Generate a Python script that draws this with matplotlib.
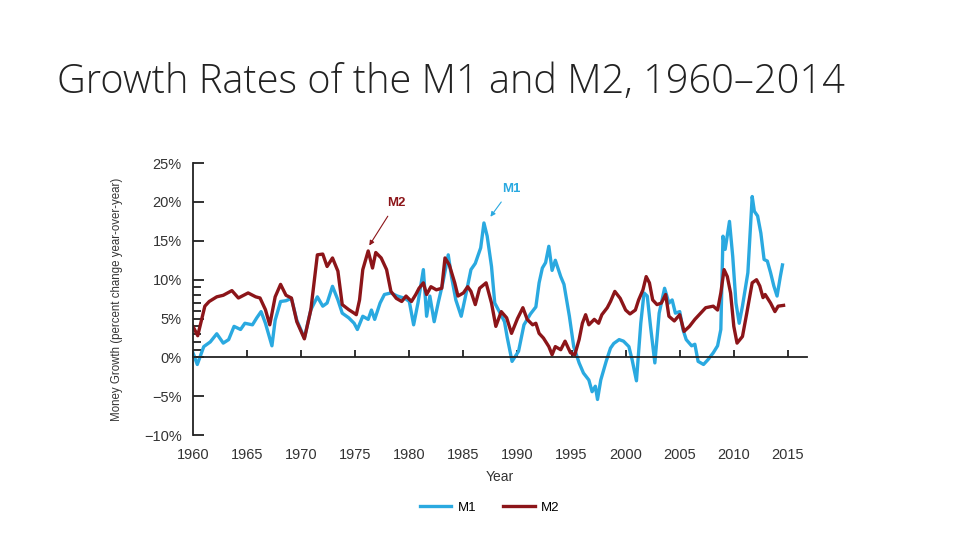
import matplotlib.pyplot as plt
import matplotlib.font_manager as fm

# M1 money growth, % change year-over-year
m1_years = [1960.0, 1960.4, 1961.0, 1961.6, 1962.2, 1962.8, 1963.3, 1963.8, 1964.4, 1964.8,
            1965.5, 1965.9, 1966.3, 1966.7, 1967.3, 1967.6, 1968.1, 1968.6, 1969.1, 1969.6,
            1970.3, 1970.9, 1971.5, 1972.0, 1972.4, 1972.9, 1973.4, 1973.8, 1974.4, 1974.9,
            1975.2, 1975.7, 1976.2, 1976.5, 1976.8, 1977.3, 1977.7, 1978.3, 1978.9, 1979.6,
            1980.0, 1980.4, 1980.8, 1981.3, 1981.6, 1981.9, 1982.3, 1982.7, 1983.1, 1983.6,
            1983.9, 1984.3, 1984.8, 1985.2, 1985.7, 1986.1, 1986.6, 1986.9, 1987.2, 1987.6,
            1987.9, 1988.4, 1988.8, 1989.05, 1989.5, 1990.1, 1990.6, 1991.2, 1991.7, 1992.0,
            1992.3, 1992.6, 1992.9, 1993.2, 1993.5, 1994.0, 1994.3, 1994.8, 1995.2, 1995.7,
            1996.1, 1996.6, 1996.9, 1997.2, 1997.4, 1997.7, 1998.2, 1998.6, 1998.9, 1999.4,
            1999.8, 2000.3, 2000.6, 2001.0, 2001.4, 2001.7, 2002.0, 2002.3, 2002.7, 2003.1,
            2003.6, 2004.0, 2004.3, 2004.6, 2005.0, 2005.3, 2005.6, 2006.1, 2006.4, 2006.7,
            2007.2, 2007.6, 2008.1, 2008.5, 2008.8, 2009.0, 2009.2, 2009.6, 2009.9, 2010.2,
            2010.5, 2010.8, 2011.3, 2011.7, 2011.9, 2012.2, 2012.5, 2012.8, 2013.1, 2013.4,
            2013.7, 2014.0, 2014.3, 2014.5]
m1_growth = [0.6, -0.9, 1.4, 2.0, 3.05, 1.85, 2.3, 4.0, 3.6, 4.4,
             4.2, 5.1, 5.9, 4.4, 1.5, 4.8, 7.2, 7.3, 7.6, 4.8,
             2.5, 6.15, 7.8, 6.6, 7.0, 9.15, 7.4, 5.7, 5.1, 4.4,
             3.6, 5.3, 4.9, 6.1, 4.9, 7.0, 8.1, 8.3, 7.9, 7.6,
             7.2, 4.2, 7.0, 11.3, 5.3, 7.9, 4.6, 7.2, 9.6, 13.2,
             10.4, 7.4, 5.3, 7.9, 11.3, 12.1, 14.1, 17.3, 15.6, 11.7,
             7.0, 5.7, 4.6, 2.6, -0.5, 0.8, 4.2, 5.6, 6.5, 9.6,
             11.5, 12.2, 14.3, 11.2, 12.5, 10.4, 9.4, 5.3, 1.4, -0.7,
             -2.0, -2.9, -4.4, -3.7, -5.4, -2.9, -0.5, 1.2, 1.8, 2.3,
             2.1, 1.4, -0.3, -3.0, 4.4, 8.3, 7.9, 4.0, -0.7, 5.7,
             8.9, 7.0, 7.4, 5.7, 5.9, 3.6, 2.3, 1.5, 1.7, -0.5,
             -0.9, -0.3, 0.6, 1.5, 3.6, 15.6, 13.9, 17.5, 13.0, 7.0,
             4.4, 6.6, 10.9, 20.7, 18.8, 18.2, 16.0, 12.6, 12.4, 10.9,
             9.2, 7.9, 10.4, 11.9]

# M2 money growth, % change year-over-year
m2_years = [1960.0, 1960.44, 1961.1, 1961.5, 1962.2, 1962.8, 1963.6, 1964.2, 1965.1, 1965.8,
            1966.2, 1966.7, 1967.1, 1967.6, 1968.1, 1968.6, 1969.1, 1969.6, 1970.3, 1970.9,
            1971.5, 1972.0, 1972.4, 1972.9, 1973.4, 1973.8, 1974.4, 1974.9, 1975.1, 1975.4,
            1975.7, 1976.2, 1976.6, 1976.9, 1977.4, 1977.9, 1978.3, 1978.8, 1979.3, 1979.7,
            1980.2, 1980.6, 1980.9, 1981.3, 1981.6, 1982.0, 1982.5, 1983.0, 1983.3, 1983.7,
            1984.2, 1984.5, 1985.0, 1985.4, 1985.7, 1986.1, 1986.5, 1987.1, 1987.6, 1988.0,
            1988.5, 1989.0, 1989.45, 1990.0, 1990.5, 1990.9, 1991.4, 1991.7, 1992.0, 1992.4,
            1992.9, 1993.2, 1993.5, 1994.0, 1994.4, 1994.9, 1995.3, 1995.7, 1996.0, 1996.3,
            1996.6, 1997.1, 1997.5, 1997.8, 1998.3, 1998.6, 1999.0, 1999.5, 2000.0, 2000.4,
            2000.9, 2001.2, 2001.6, 2001.9, 2002.2, 2002.5, 2002.9, 2003.3, 2003.7, 2004.0,
            2004.5, 2005.0, 2005.4, 2005.9, 2006.4, 2006.8, 2007.4, 2008.1, 2008.5, 2008.8,
            2009.1, 2009.4, 2009.7, 2010.0, 2010.3, 2010.8, 2011.2, 2011.7, 2012.1, 2012.4,
            2012.7, 2012.9, 2013.4, 2013.8, 2014.1, 2014.6]
m2_growth = [4.0, 2.8, 6.6, 7.2, 7.8, 8.0, 8.6, 7.65, 8.3, 7.8,
             7.65, 6.15, 4.2, 7.8, 9.4, 8.0, 7.65, 4.6, 2.4, 6.15,
             13.2, 13.3, 11.7, 12.8, 11.1, 6.8, 6.15, 5.7, 5.5, 7.4,
             11.3, 13.7, 11.5, 13.5, 12.8, 11.3, 8.5, 7.6, 7.2, 7.9,
             7.2, 8.1, 8.9, 9.6, 8.1, 9.1, 8.7, 8.9, 12.8, 11.9,
             9.6, 7.9, 8.3, 9.1, 8.5, 6.8, 8.9, 9.6, 7.0, 4.0,
             5.9, 5.1, 3.1, 5.0, 6.4, 4.9, 4.2, 4.4, 3.1, 2.5,
             1.4, 0.35, 1.4, 1.0, 2.1, 0.6, 0.35, 2.3, 4.4, 5.5,
             4.2, 4.9, 4.4, 5.5, 6.4, 7.2, 8.5, 7.6, 6.1, 5.6,
             6.1, 7.4, 8.7, 10.4, 9.6, 7.4, 6.8, 7.0, 8.1, 5.3,
             4.7, 5.5, 3.35, 4.0, 4.9, 5.5, 6.4, 6.6, 6.1, 8.3,
             11.3, 10.4, 8.3, 4.0, 1.85, 2.7, 5.7, 9.6, 10.0, 9.2,
             7.7, 8.1, 7.0, 5.9, 6.6, 6.7]

year_ticks = list(range(1960, 2016, 5))
pct_ticks = list(range(-10, 26, 5))

blue = '#2AA9E0'
red = '#8C1519'
grey = '#333333'

narrow = 'Liberation Sans Narrow'
available = {f.name for f in fm.fontManager.ttflist}
if narrow not in available:
    narrow = 'Liberation Sans'
ylab_size = 10 if narrow == 'Liberation Sans Narrow' else 8.3

fig = plt.figure(figsize=(9.6, 5.4), dpi=100)
ax = fig.add_axes([0.201, 0.194, 0.64, 0.504])

ax.plot(m1_years, m1_growth, color=blue, lw=2.4, label='M1', solid_joinstyle='round')
ax.plot(m2_years, m2_growth, color=red, lw=2.4, label='M2', solid_joinstyle='round')

ax.set_xlim(1960, 2016.8)
ax.set_ylim(-10, 25)

for s in ['top', 'right']:
    ax.spines[s].set_visible(False)
ax.spines['left'].set_color('#222222')
ax.spines['left'].set_linewidth(1.3)
ax.spines['bottom'].set_position(('data', 0))
ax.spines['bottom'].set_color('#222222')
ax.spines['bottom'].set_linewidth(1.3)

ax.set_yticks(pct_ticks)
ax.set_yticklabels([('\u2212%d%%' % -v) if v < 0 else '%d%%' % v for v in pct_ticks],
                   fontname='Liberation Sans', fontsize=10.5, color=grey)
ax.set_yticks([v for v in range(1, 10) if v != 5], minor=True)
ax.tick_params(axis='y', which='major', direction='in', length=8, width=1.3, pad=8, color='#222222')
ax.tick_params(axis='y', which='minor', direction='in', length=6, width=1.3, color='#222222')

ax.set_xticks(year_ticks)
ax.tick_params(axis='x', direction='in', length=5, width=1.3, labelbottom=False, color='#222222')

sec = ax.secondary_xaxis(0)
sec.set_xticks(year_ticks)
sec.set_xticklabels([str(y) for y in year_ticks], fontname='Liberation Sans', fontsize=10.5, color=grey)
sec.tick_params(length=0, pad=9)
sec.spines['bottom'].set_visible(False)
sec.set_xlabel('Year', fontname='Liberation Sans', fontsize=10, color=grey, labelpad=6)

ax.set_ylabel('Money Growth (percent change year-over-year)', fontname=narrow,
              fontsize=ylab_size, color=grey, labelpad=15)

ax.annotate('M2', xy=(1976.3, 14.4), xytext=(1978.8, 19.9), ha='center', va='center',
            color=red, fontsize=9.5, fontweight='bold', fontname='Liberation Sans',
            arrowprops=dict(arrowstyle='-|>', color=red, lw=0.8, mutation_scale=7,
                            shrinkA=4, shrinkB=0))
ax.annotate('M1', xy=(1987.5, 18.1), xytext=(1989.4, 21.7), ha='center', va='center',
            color=blue, fontsize=9.5, fontweight='bold', fontname='Liberation Sans',
            arrowprops=dict(arrowstyle='-|>', color=blue, lw=0.8, mutation_scale=7,
                            shrinkA=4, shrinkB=0))

fig.legend(loc='center', bbox_to_anchor=(0.51, 0.06), ncol=2, frameon=False,
           handlelength=2.4, columnspacing=2.0, handletextpad=0.5,
           prop={'family': 'Liberation Sans', 'size': 9.5})

fig.text(0.059, 0.848, 'Growth Rates of the M1 and M2, 1960\u20132014', fontname='Open Sans',
         fontsize=28.6, color='#222222', va='center', ha='left', fontweight='light')

fig.savefig('out.png', dpi=100)
